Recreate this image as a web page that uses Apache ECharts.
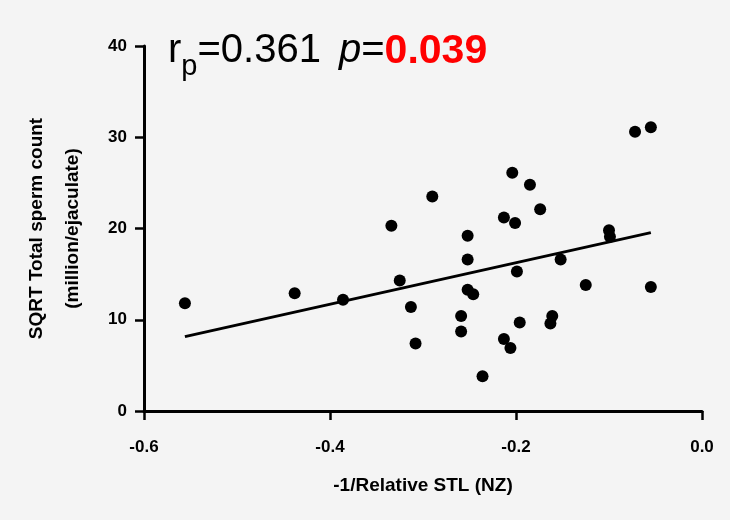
<!DOCTYPE html>
<html>
<head>
<meta charset="utf-8">
<script src="https://cdn.jsdelivr.net/npm/echarts@6/dist/echarts.min.js"></script>
<style>
  html, body { margin: 0; padding: 0; background: #f4f4f4; }
  #chart { width: 730px; height: 520px; }
</style>
</head>
<body>
<div id="chart"></div>
<script>
// -1/Relative STL (NZ) vs SQRT total sperm count
const stlValues = [
  -0.556, -0.438, -0.386, -0.334, -0.290, -0.325, -0.313, -0.308,
  -0.252, -0.252, -0.252, -0.246, -0.259, -0.259, -0.236, -0.213,
  -0.206, -0.196, -0.199, -0.213, -0.201, -0.204, -0.185, -0.174,
  -0.152, -0.161, -0.163, -0.125, -0.100, -0.099, -0.072, -0.055,
  -0.055
]
const spermValues = [
  11.8, 12.9, 12.2, 20.3, 23.5, 14.3, 11.4, 7.4,
  19.2, 16.6, 13.3, 12.8, 10.4, 8.7, 3.8, 7.9,
  6.9, 9.7, 15.3, 21.2, 20.6, 26.1, 24.8, 22.1,
  16.6, 10.4, 9.6, 13.8, 19.8, 19.1, 30.6, 31.1,
  13.6
]
// regression line end points
const fitX = [-0.556, -0.055]
const fitY = [8.15, 19.55]

const xTicks = [-0.6, -0.4, -0.2, 0.0]
const yTicks = [0, 10, 20, 30, 40]

const font = 'Liberation Sans, Arial, sans-serif'
const chart = echarts.init(document.getElementById('chart'))

const plain = { fontFamily: font, fontSize: 40, fontWeight: 'normal', color: '#000', lineHeight: 42, verticalAlign: 'top' }

const option = {
  backgroundColor: '#f4f4f4',
  animation: false,
  title: {
    left: 163,
    top: 26,
    text: '{r|r}{sub|p}{n|=0.361 }{i|p}{n|=}{red|0.039}',
    textStyle: {
      fontWeight: 'normal',
      rich: {
        r: plain,
        sub: { fontFamily: font, fontSize: 29, fontWeight: 'normal', color: '#000', lineHeight: 30, verticalAlign: 'top', padding: [21, 0, 0, 0] },
        n: plain,
        i: Object.assign({}, plain, { fontStyle: 'italic', padding: [0, 0, 0, 7] }),
        red: { fontFamily: font, fontSize: 41, fontWeight: 'bold', color: '#ff0000', lineHeight: 42, verticalAlign: 'top' }
      }
    }
  },
  grid: {
    left: 144,
    right: 28,
    top: 46,
    bottom: 109
  },
  xAxis: {
    type: 'value',
    min: xTicks[0],
    max: xTicks[xTicks.length - 1],
    interval: 0.2,
    name: '-1/Relative STL (NZ)',
    nameLocation: 'middle',
    nameGap: 65,
    nameTextStyle: { fontFamily: font, fontWeight: 'bold', fontSize: 19, color: '#000' },
    axisLine: { onZero: false, lineStyle: { color: '#000', width: 3 } },
    axisTick: { show: true, inside: false, length: 9, lineStyle: { color: '#000', width: 2.5 } },
    axisLabel: {
      margin: 28,
      fontFamily: font,
      fontWeight: 'bold',
      fontSize: 17,
      color: '#000',
      formatter: v => v.toFixed(1)
    },
    splitLine: { show: false }
  },
  yAxis: {
    type: 'value',
    min: yTicks[0],
    max: yTicks[yTicks.length - 1],
    interval: 10,
    name: 'SQRT Total sperm count\n(million/ejaculate)',
    nameLocation: 'middle',
    nameGap: 53,
    nameTextStyle: { fontFamily: font, fontWeight: 'bold', fontSize: 19, color: '#000', lineHeight: 36 },
    axisLine: { show: true, onZero: false, lineStyle: { color: '#000', width: 3 } },
    axisTick: { show: true, inside: false, length: 9, lineStyle: { color: '#000', width: 2.5 } },
    axisLabel: {
      margin: 17,
      fontFamily: font,
      fontWeight: 'bold',
      fontSize: 17,
      color: '#000'
    },
    splitLine: { show: false }
  },
  series: [
    {
      type: 'scatter',
      symbol: 'circle',
      symbolSize: 12,
      itemStyle: { color: '#000', opacity: 1 },
      data: stlValues.map((x, i) => [x, spermValues[i]])
    },
    {
      type: 'line',
      showSymbol: false,
      symbol: 'none',
      lineStyle: { color: '#000', width: 3 },
      data: fitX.map((x, i) => [x, fitY[i]])
    }
  ]
}

chart.setOption(option)
</script>
</body>
</html>
